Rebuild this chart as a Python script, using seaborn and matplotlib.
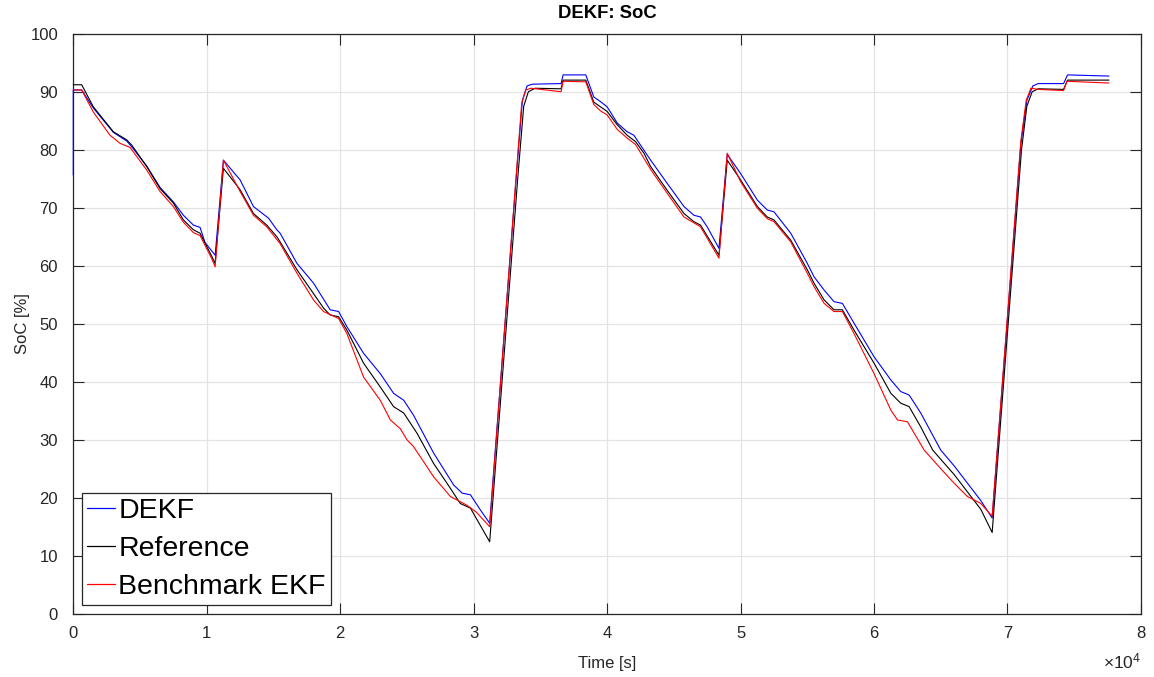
import matplotlib
matplotlib.use("Agg")
import matplotlib.pyplot as plt
import seaborn as sns
import pandas as pd

# ---------------- data (time in s, SoC in %) ----------------
t_dekf = [0, 0, 630, 1500, 3000, 4000, 4380, 5500, 6500, 7500, 8250, 9000, 9500, 9870, 10630,
          11250, 12500, 13500, 14630, 15250, 15500, 16760, 18000, 19250, 19880, 20500, 21750,
          23000, 24000, 24760, 25500, 27000, 28500, 29130, 29760, 30500, 31200,
          33250, 33650, 34000, 34400, 36550, 36700, 38400, 39000, 39500, 40000, 40760, 41500,
          42000, 42500, 43260, 44500, 45760, 46500, 47000, 47500, 48380,
          49000, 50000, 51260, 52000, 52500, 53760, 55000, 55500, 56260, 57000, 57630, 58500,
          60000, 61260, 62000, 62630, 63500, 65000, 66000, 67000, 68000, 68850,
          71000, 71450, 71900, 72300, 74200, 74500, 77600]
soc_dekf = [75.6, 90.3, 90.3, 87.2, 83.0, 81.5, 80.5, 77.2, 73.5, 71.0, 68.7, 67.0, 66.6, 64.0, 61.8,
            78.2, 74.8, 70.2, 68.2, 66.2, 65.6, 60.4, 57.0, 52.4, 52.1, 49.5, 44.9,
            41.4, 38.0, 36.8, 34.2, 27.7, 22.2, 20.8, 20.5, 17.9, 15.6,
            77.0, 88.5, 91.0, 91.3, 91.4, 92.9, 92.9, 89.1, 88.3, 87.4, 84.6, 83.1,
            82.5, 80.8, 78.2, 74.2, 70.2, 68.7, 68.4, 66.7, 63.0,
            79.2, 75.9, 71.3, 69.6, 69.3, 65.6, 60.4, 58.1, 55.8, 53.8, 53.5, 50.1,
            44.3, 40.3, 38.3, 37.7, 34.6, 28.2, 25.5, 22.5, 19.5, 16.5,
            81.0, 88.5, 91.0, 91.4, 91.4, 92.9, 92.7]

t_ref = [0, 630, 1500, 3000, 4000, 4380, 5500, 6500, 7500, 8250, 9000, 9500, 10380, 10630,
         11250, 12500, 13500, 14500, 15250, 15500, 16760, 18000, 18750, 19250, 19880, 20500,
         21750, 23000, 24000, 24760, 25760, 27000, 28000, 29000, 29760, 31200,
         33300, 33750, 34100, 34600, 36550, 36700, 38400, 39000, 40000, 40760, 41500, 42130,
         42760, 43260, 44500, 45760, 46500, 47000, 48380,
         49000, 50000, 51260, 52000, 52500, 53760, 55000, 55500, 56260, 57000, 57630, 58500,
         60000, 61260, 62000, 62630, 63500, 64400, 66000, 67000, 68000, 68850,
         71050, 71450, 71850, 72300, 74200, 74500, 77600]
soc_ref = [91.2, 91.2, 87.4, 83.1, 81.7, 80.8, 77.1, 73.3, 70.8, 67.9, 66.2, 65.6, 61.6, 60.4,
           76.8, 73.1, 69.0, 67.0, 65.0, 64.1, 59.3, 55.2, 52.7, 51.5, 51.2, 48.9,
           43.2, 39.1, 35.7, 34.6, 31.1, 25.9, 22.5, 19.0, 18.2, 12.4,
           75.0, 87.5, 90.0, 90.6, 90.5, 92.0, 92.0, 88.2, 86.6, 84.3, 82.5, 81.4,
           79.4, 77.1, 73.0, 69.0, 67.6, 67.0, 61.8,
           78.2, 74.8, 70.2, 68.4, 67.9, 64.4, 59.3, 57.0, 54.1, 52.4, 52.4, 48.9,
           43.2, 38.0, 36.3, 35.7, 32.2, 28.2, 24.0, 21.0, 18.0, 14.0,
           80.0, 87.5, 90.0, 90.5, 90.4, 92.0, 92.0]

t_ekf = [0, 630, 1500, 2750, 3500, 4250, 5500, 6500, 7500, 8250, 9000, 9500, 10380, 10630,
         11250, 12500, 13500, 14500, 15500, 16760, 18000, 18750, 19880, 20500, 21750,
         23000, 23760, 24500, 25000, 25500, 27000, 28260, 29500, 30200, 31200,
         33250, 33600, 33900, 34300, 36550, 36700, 38400, 39000, 39500, 40000, 40760, 41500,
         42130, 43260, 44500, 45760, 47000, 48380,
         49000, 50000, 51260, 52000, 52500, 53760, 55000, 55500, 56260, 57000, 57630, 58500,
         60000, 61260, 61760, 62500, 63760, 65000, 66000, 67000, 68000, 68850,
         71000, 71400, 71750, 72300, 74200, 74450, 77600]
soc_ekf = [90.3, 90.3, 86.5, 82.5, 81.1, 80.4, 76.5, 72.8, 70.2, 67.5, 65.7, 65.2, 61.2, 59.8,
           78.2, 72.8, 68.7, 66.7, 63.8, 58.7, 54.1, 52.1, 50.9, 48.3, 40.8,
           36.8, 33.4, 31.9, 30.0, 28.8, 23.6, 20.2, 18.7, 17.5, 15.0,
           77.5, 88.0, 90.3, 90.6, 90.0, 91.8, 91.7, 87.8, 86.7, 86.0, 83.5, 82.0,
           80.9, 76.6, 72.5, 68.4, 66.7, 61.3,
           79.4, 74.5, 69.9, 68.1, 67.6, 64.1, 58.7, 56.4, 53.5, 52.1, 52.1, 48.3,
           41.4, 35.1, 33.4, 33.1, 28.2, 25.0, 22.5, 20.2, 19.0, 16.8,
           81.5, 88.5, 90.6, 90.4, 90.2, 91.8, 91.5]

series_names = ["DEKF", "Reference", "Benchmark EKF"]
series_colors = ["#0000ff", "#000000", "#ff0000"]
x_ticks = [0, 10000, 20000, 30000, 40000, 50000, 60000, 70000, 80000]
x_tick_labels = ["0", "1", "2", "3", "4", "5", "6", "7", "8"]
y_ticks = list(range(0, 101, 10))

# ---------------- style ----------------
sns.set_theme(style="whitegrid")
plt.rcParams["font.family"] = ["Liberation Sans", "DejaVu Sans"]
plt.rcParams["mathtext.fontset"] = "custom"
plt.rcParams["mathtext.rm"] = "Liberation Sans"
plt.rcParams["mathtext.it"] = "Liberation Sans"

fig = plt.figure(figsize=(11.54, 6.77), dpi=100)
ax = fig.add_axes([0.0635, 0.0935, 0.9252, 0.8567])
ax.set_facecolor("white")

frames = [pd.DataFrame({"t": t_dekf, "soc": soc_dekf}),
          pd.DataFrame({"t": t_ref, "soc": soc_ref}),
          pd.DataFrame({"t": t_ekf, "soc": soc_ekf})]
for df, name, col in zip(frames, series_names, series_colors):
    sns.lineplot(data=df, x="t", y="soc", ax=ax, color=col, lw=0.8,
                 estimator=None, sort=False, label=name, zorder=3, clip_on=False)

ax.set_xlim(0, 80000)
ax.set_ylim(0, 100)
ax.set_xticks(x_ticks)
ax.set_xticklabels(x_tick_labels)
ax.set_yticks(y_ticks)

ax.grid(True, color="#e3e3e3", lw=0.9)
for s in ax.spines.values():
    s.set_visible(True)
    s.set_color("#262626")
    s.set_linewidth(0.9)
ax.tick_params(direction="in", length=8, width=0.8, color="#262626",
               labelcolor="#262626", labelsize=12, top=True, right=True,
               bottom=True, left=True)
ax.tick_params(axis="x", pad=9)
ax.tick_params(axis="y", pad=11)

ax.set_xlabel("Time [s]", fontsize=12, color="#262626", labelpad=10.5)
ax.set_ylabel("SoC [%]", fontsize=12, color="#262626", labelpad=0)
ax.set_title("DEKF: SoC", fontsize=13.3, fontweight="bold", color="#000000", pad=11)

ax.text(1.0, -0.066, r"$\times10^{4}$", transform=ax.transAxes, ha="right",
        va="top", fontsize=12.5, color="#262626")

leg = ax.legend(loc="lower left", fontsize=20.5, frameon=True, fancybox=False,
                framealpha=1, edgecolor="#262626", handlelength=1.0,
                handletextpad=0.1, labelspacing=0.42, borderpad=0.18,
                borderaxespad=0.3, labelcolor="#000000")
leg.get_frame().set_linewidth(0.9)
for line in leg.get_lines():
    line.set_linewidth(0.9)

fig.savefig("out.png", dpi=100, facecolor="white")
